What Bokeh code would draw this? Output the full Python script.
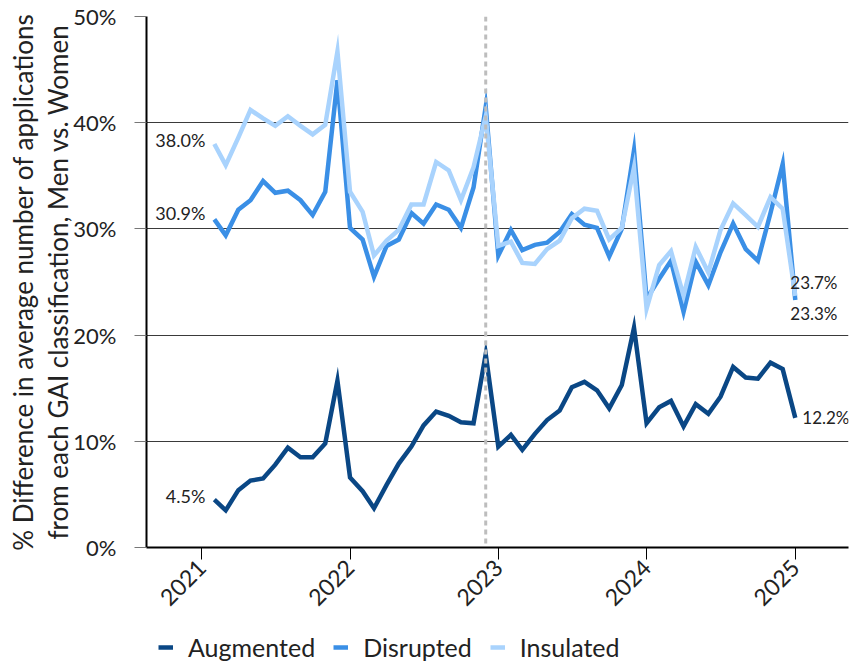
import math
import pandas as pd
from bokeh.plotting import figure
from bokeh.layouts import column
from bokeh.models import (ColumnDataSource, FixedTicker, PrintfTickFormatter,
                          DatetimeTickFormatter, Span, Legend, LegendItem, Range1d)
from bokeh.core.properties import value
from bokeh.embed import file_html
from bokeh.resources import INLINE

# Monthly series, Feb 2021 .. Jan 2025
months = pd.date_range("2021-02-01", periods=48, freq="MS")

augmented = [4.5, 3.5, 5.4, 6.3, 6.5, 7.8, 9.4, 8.5, 8.5, 9.8, 15.7, 6.6,
             5.3, 3.7, 5.9, 7.9, 9.5, 11.5, 12.8, 12.4, 11.8, 11.7, 18.2, 9.5,
             10.6, 9.2, 10.7, 12.0, 12.9, 15.1, 15.6, 14.8, 13.1, 15.3, 20.7, 11.7,
             13.2, 13.8, 11.4, 13.5, 12.6, 14.2, 17.0, 16.0, 15.9, 17.4, 16.8, 12.2]

disrupted = [30.9, 29.4, 31.8, 32.7, 34.5, 33.4, 33.6, 32.7, 31.3, 33.5, 44.0, 30.1,
             29.0, 25.5, 28.4, 29.0, 31.5, 30.5, 32.3, 31.8, 30.1, 33.9, 41.5, 27.5,
             29.9, 28.0, 28.5, 28.7, 29.7, 31.4, 30.4, 30.1, 27.4, 30.0, 37.4, 23.4,
             25.3, 27.0, 22.2, 26.9, 24.7, 27.8, 30.5, 28.1, 27.0, 31.5, 36.1, 23.3]

insulated = [38.0, 36.0, 38.6, 41.2, 40.4, 39.7, 40.6, 39.7, 38.9, 39.8, 46.7, 33.5,
             31.6, 27.5, 28.9, 29.9, 32.3, 32.3, 36.3, 35.5, 32.7, 35.8, 40.6, 28.4,
             28.8, 26.8, 26.7, 28.1, 28.9, 31.0, 31.9, 31.7, 29.0, 30.1, 35.8, 22.5,
             26.6, 27.9, 23.7, 28.3, 25.9, 29.9, 32.4, 31.3, 30.2, 33.0, 31.9, 23.7]

series_names = ["Augmented", "Disrupted", "Insulated"]
series_colors = ["#0a4785", "#3a8fe6", "#a9d3fd"]
year_ticks = ["2021", "2022", "2023", "2024", "2025"]
y_ticks = [0, 10, 20, 30, 40, 50]
marker_date = "2022-12-01"

FONT = "Lato"
TEXT = "#222222"

def ms(d):
    return pd.Timestamp(d).value / 1e6

p = figure(width=857, height=620, x_axis_type="datetime",
           output_backend="svg", toolbar_location=None,
           min_border_left=146, min_border_right=9,
           min_border_top=16, min_border_bottom=73,
           x_range=Range1d(ms("2020-08-18"), ms("2025-05-12")),
           y_range=Range1d(0, 50))
p.outline_line_color = None
p.background_fill_color = "white"
p.border_fill_color = "white"

# grid
p.xgrid.grid_line_color = None
p.ygrid.grid_line_color = "#3a3a3a"
p.ygrid.grid_line_width = 1
p.ygrid.ticker = FixedTicker(ticks=y_ticks)

# y axis
p.yaxis.ticker = FixedTicker(ticks=y_ticks)
p.yaxis.formatter = PrintfTickFormatter(format="%d%%")
p.yaxis.axis_line_color = "black"
p.yaxis.axis_line_width = 2
p.yaxis.major_tick_line_color = "#777777"
p.yaxis.major_tick_out = 12
p.yaxis.major_tick_in = 0
p.yaxis.minor_tick_line_color = None
p.yaxis.major_label_standoff = 18
p.yaxis.major_label_text_font = FONT
p.yaxis.major_label_text_font_size = "22px"
p.yaxis.major_label_text_color = TEXT
p.yaxis.axis_label = ("% Difference in average number of applications\n"
                      "from each GAI classification, Men vs. Women")
p.yaxis.axis_label_text_font = FONT
p.yaxis.axis_label_text_font_size = "26px"
p.yaxis.axis_label_text_font_style = "normal"
p.yaxis.axis_label_text_color = TEXT
p.yaxis.axis_label_text_line_height = 1.1
p.yaxis.axis_label_standoff = -4

# x axis
p.xaxis.ticker = FixedTicker(ticks=[ms(f"{y}-01-01") for y in year_ticks])
p.xaxis.formatter = DatetimeTickFormatter(years="%Y", months="%Y", days="%Y")
p.xaxis.axis_line_color = "black"
p.xaxis.axis_line_width = 2
p.xaxis.major_tick_line_color = "black"
p.xaxis.major_tick_out = 12
p.xaxis.major_tick_in = 0
p.xaxis.minor_tick_line_color = None
p.xaxis.major_label_orientation = math.pi / 4
p.xaxis.major_label_text_font = FONT
p.xaxis.major_label_text_font_size = "23px"
p.xaxis.major_label_text_color = TEXT
p.xaxis.major_label_standoff = 4

# series lines
renderers = []
for name, vals, color in zip(series_names, [augmented, disrupted, insulated], series_colors):
    src = ColumnDataSource(dict(x=months, y=vals))
    r = p.line("x", "y", source=src, line_color=color, line_width=4.5,
               line_join="miter")
    renderers.append(r)

# reference line at Dec 2022
p.add_layout(Span(location=ms(marker_date), dimension="height",
                  line_color="#bdbdbd", line_width=3, line_dash="5 4"))

# start / end value labels
def pct(v):
    return f"{v:.1f}%"

start = ColumnDataSource(dict(
    x=[months[0]] * 3,
    y=[augmented[0], disrupted[0], insulated[0]],
    t=[pct(augmented[0]), pct(disrupted[0]), pct(insulated[0])],
    dy=[-4, -6, -4]))
p.text("x", "y", text="t", source=start, x_offset=-9, y_offset="dy",
       text_align="right", text_baseline="middle",
       text_font=value(FONT), text_font_size="18px", text_color=TEXT)

end = ColumnDataSource(dict(
    x=[months[-1]] * 3,
    y=[augmented[-1], disrupted[-1], insulated[-1]],
    t=[pct(augmented[-1]), pct(disrupted[-1]), pct(insulated[-1])],
    dx=[7, -5, -5],
    dy=[0, 13, -13]))
p.text("x", "y", text="t", source=end, x_offset="dx", y_offset="dy",
       text_align="left", text_baseline="middle",
       text_font=value(FONT), text_font_size="17px", text_color=TEXT)

# legend strip underneath the chart
leg = figure(width=857, height=46, output_backend="svg", toolbar_location=None,
             min_border=0, x_axis_location=None, y_axis_location=None,
             x_range=Range1d(0, 1), y_range=Range1d(0, 1))
leg.outline_line_color = None
leg.xgrid.grid_line_color = None
leg.ygrid.grid_line_color = None
leg_renderers = [leg.line(x=[float("nan")], y=[float("nan")], line_color=c, line_width=4.5)
                 for c in series_colors]
legend = Legend(items=[LegendItem(label=n, renderers=[r])
                       for n, r in zip(series_names, leg_renderers)],
                orientation="horizontal", location=(12, 4),
                glyph_width=15, glyph_height=26, label_standoff=15, spacing=18,
                label_height=26,
                padding=0, margin=0, border_line_color=None,
                background_fill_alpha=0,
                label_text_font=FONT, label_text_font_size="25px",
                label_text_color=TEXT)
leg.add_layout(legend, "center")

layout = column(p, leg, spacing=0)
open("out.html", "w").write(file_html(layout, INLINE))
